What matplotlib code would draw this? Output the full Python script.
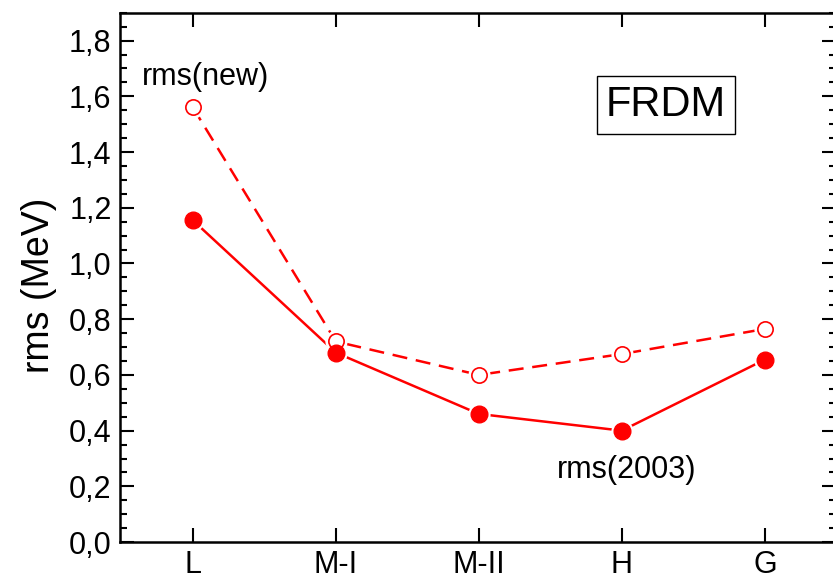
import matplotlib
matplotlib.use("Agg")
from matplotlib import pyplot as plt
from matplotlib.ticker import MultipleLocator, FuncFormatter
import numpy as np

plt.rcParams['font.family'] = ['Liberation Sans', 'DejaVu Sans']

# data
models = ['L', 'M-I', 'M-II', 'H', 'G']
rms_2003 = [1.155, 0.68, 0.46, 0.40, 0.655]
rms_new = [1.56, 0.72, 0.60, 0.675, 0.765]

x = np.arange(len(models))
red = '#ff0000'

fig = plt.figure(figsize=(8.33, 5.81), dpi=100)
ax = fig.add_axes([0.144, 0.067, 0.860, 0.911])

# lines
ax.plot(x, rms_new, color=red, lw=1.8, ls=(0, (6, 3.5)), zorder=2)
ax.plot(x, rms_2003, color=red, lw=1.8, zorder=2)

# white halo so the lines stop short of the symbols
ax.plot(x, rms_new, ls='none', marker='o', ms=16, mfc='white', mec='none', zorder=3)
ax.plot(x, rms_2003, ls='none', marker='o', ms=16, mfc='white', mec='none', zorder=3)

# symbols
ax.plot(x, rms_new, ls='none', marker='o', ms=11, mfc='white', mec=red, mew=1.2, zorder=4)
ax.plot(x, rms_2003, ls='none', marker='o', ms=12, mfc=red, mec=red, zorder=4)

ax.set_xlim(-0.51, 4.5)
ax.set_ylim(0, 1.9)
ax.set_xticks(x)
ax.set_xticklabels(models)
ax.yaxis.set_major_locator(MultipleLocator(0.2))
ax.yaxis.set_minor_locator(MultipleLocator(0.05))
ax.yaxis.set_major_formatter(FuncFormatter(lambda v, p: f'{v:.1f}'.replace('.', ',')))

ax.tick_params(axis='both', which='both', direction='in', top=True, right=True, width=1.5)
ax.tick_params(axis='both', which='major', length=10, labelsize=22, pad=6)
ax.tick_params(axis='y', which='minor', length=5)
for s in ax.spines.values():
    s.set_linewidth(1.8)

ax.set_ylabel('rms (MeV)', fontsize=27)
ax.yaxis.set_label_coords(-0.088, 0.485)

ax.text(0.09, 1.67, 'rms(new)', fontsize=22, ha='center', va='center')
ax.text(3.03, 0.26, 'rms(2003)', fontsize=22, ha='center', va='center')
ax.text(3.31, 1.57, 'FRDM', fontsize=30, ha='center', va='center',
        bbox=dict(boxstyle='square,pad=0.22', fc='white', ec='black', lw=1.0))

fig.savefig('out.png', dpi=100)
